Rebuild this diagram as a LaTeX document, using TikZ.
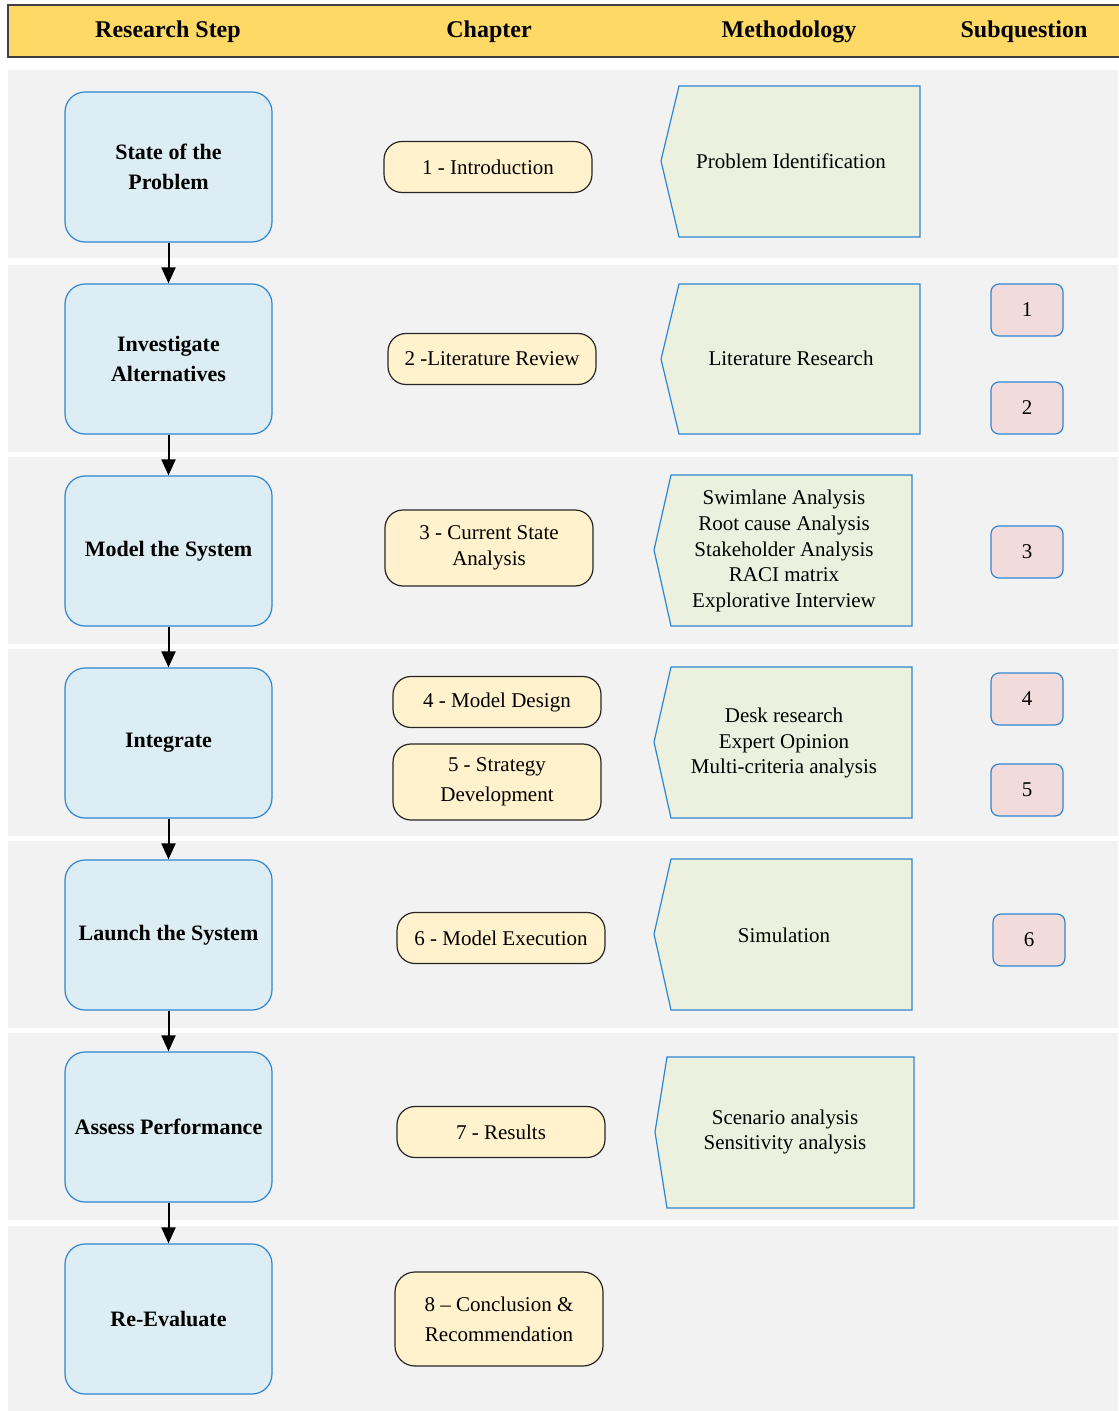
\documentclass[tikz,border=0pt]{standalone}
\usepackage{fontspec}
\setmainfont{Liberation Serif}
\usetikzlibrary{arrows.meta}
\definecolor{headyellow}{HTML}{FFD966}
\definecolor{rowgray}{HTML}{F2F2F2}
\definecolor{stepblue}{HTML}{2E86D1}
\definecolor{steplight}{HTML}{DCEDF4}
\definecolor{chapfill}{HTML}{FFF2CC}
\definecolor{methfill}{HTML}{EBF1DE}
\definecolor{subfill}{HTML}{F2DCDB}

\begin{document}
\begin{tikzpicture}[x=0.5pt, y=-0.5pt,
    stepbox/.style={draw=stepblue, fill=steplight, line width=0.6pt, rounded corners=10pt,
        minimum width=103.5pt, minimum height=75pt, align=center,
        font=\bfseries\fontsize{11}{15}\selectfont},
    chapbox/.style={draw=black!85, fill=chapfill, line width=0.6pt, rounded corners=9pt,
        minimum width=104pt, minimum height=25.5pt, align=center,
        font=\fontsize{10.5}{13}\selectfont},
    methbox/.style={draw=stepblue, fill=methfill, line width=0.6pt},
    methtext/.style={align=center, font=\fontsize{10.5}{12.8}\selectfont},
    subbox/.style={draw=stepblue, fill=subfill, line width=0.6pt, rounded corners=4pt,
        minimum width=36pt, minimum height=26pt, font=\fontsize{10.5}{13}\selectfont},
    headtext/.style={font=\bfseries\fontsize{12}{14}\selectfont},
    flow/.style={-{Triangle[length=8pt, width=7pt]}, line width=1pt}]
    \useasboundingbox (0,0) rectangle (1118,1411);

    % Header bar
    \draw[fill=headyellow, draw=black!75, line width=0.6pt] (8,5) rectangle (1122,57);
    \node[headtext] (h1) at (168,32) {Research Step};
    \node[headtext] (h2) at (489,32) {Chapter};
    \node[headtext] (h3) at (789,32) {Methodology};
    \node[headtext] (h4) at (1024,32) {Subquestion};

    % Row backgrounds
    \foreach \top/\bot in {70/258, 265/452, 457/644, 649/836, 841/1028, 1033/1220, 1226/1411}
        \fill[rowgray] (8,\top) rectangle (1118,\bot);

    % Research steps
    \node[stepbox] (s1) at (168.5,167) {State of the\\Problem};
    \node[stepbox] (s2) at (168.5,359) {Investigate\\Alternatives};
    \node[stepbox] (s3) at (168.5,551) {Model the System};
    \node[stepbox] (s4) at (168.5,743) {Integrate};
    \node[stepbox] (s5) at (168.5,935) {Launch the System};
    \node[stepbox] (s6) at (168.5,1127) {Assess Performance};
    \node[stepbox] (s7) at (168.5,1319) {Re-Evaluate};
    \foreach \a/\b in {s1/s2, s2/s3, s3/s4, s4/s5, s5/s6, s6/s7}
        \draw[flow] (\a.south) -- (\b.north);

    % Chapters
    \node[chapbox] (c1) at (488,167) {1 - Introduction};
    \node[chapbox] (c2) at (492,359) {2 -Literature Review};
    \node[chapbox, minimum height=38pt] (c3) at (489,548) {3 - Current State\\Analysis};
    \node[chapbox] (c4) at (497,702) {4 - Model Design};
    \node[chapbox, minimum height=38pt, font=\fontsize{10.5}{15}\selectfont] (c5) at (497,782) {5 - Strategy\\Development};
    \node[chapbox] (c6) at (501,938) {6 - Model Execution};
    \node[chapbox] (c7) at (501,1132) {7 - Results};
    \node[chapbox, minimum height=47pt, rounded corners=10pt, font=\fontsize{10.5}{15}\selectfont] (c8) at (499,1319) {8 -- Conclusion \&\\Recommendation};

    % Methodology
    \draw[methbox] (679,86) -- (920,86) -- (920,237) -- (679,237) -- (661,161) -- cycle;
    \node[methtext] (m1) at (791,161) {Problem Identification};
    \draw[methbox] (679,284) -- (920,284) -- (920,434) -- (679,434) -- (661,359) -- cycle;
    \node[methtext] (m2) at (791,358) {Literature Research};
    \draw[methbox] (671,475) -- (912,475) -- (912,626) -- (671,626) -- (654,550) -- cycle;
    \node[methtext] (m3) at (784,551) {Swimlane Analysis\\Root cause Analysis\\Stakeholder Analysis\\RACI matrix\\Explorative Interview};
    \draw[methbox] (671,667) -- (912,667) -- (912,818) -- (671,818) -- (654,742) -- cycle;
    \node[methtext] (m4) at (784,743) {Desk research\\Expert Opinion\\Multi-criteria analysis};
    \draw[methbox] (671,859) -- (912,859) -- (912,1010) -- (671,1010) -- (654,934) -- cycle;
    \node[methtext] (m5) at (784,935) {Simulation};
    \draw[methbox] (667,1057) -- (914,1057) -- (914,1208) -- (667,1208) -- (655,1132) -- cycle;
    \node[methtext] (m6) at (785,1132) {Scenario analysis\\Sensitivity analysis};

    % Subquestions
    \node[subbox] (q1) at (1027,310) {1};
    \node[subbox] (q2) at (1027,408) {2};
    \node[subbox] (q3) at (1027,552) {3};
    \node[subbox] (q4) at (1027,699) {4};
    \node[subbox] (q5) at (1027,790) {5};
    \node[subbox] (q6) at (1029,940) {6};
\end{tikzpicture}
\end{document}
